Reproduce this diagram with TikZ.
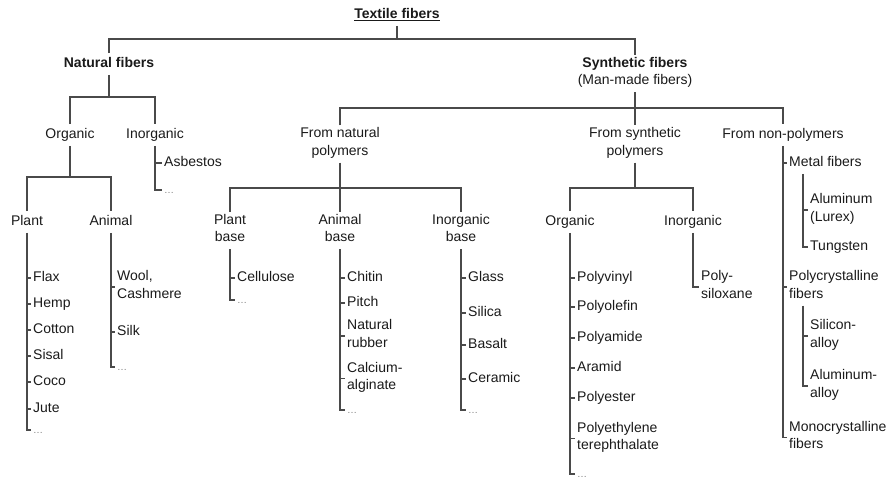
\documentclass[tikz,border=0pt]{standalone}
\usepackage{fontspec}
\setmainfont{Liberation Sans}
\definecolor{lc}{HTML}{4A4A4A}
\definecolor{txt}{HTML}{1A1A1A}
\begin{document}
\begin{tikzpicture}[x=1pt,y=-1pt,
  every node/.style={font=\fontsize{14}{17.5}\selectfont, text=txt, inner xsep=2pt, inner ysep=2pt,
    execute at begin node=\strut, execute at end node=\strut},
  hd/.style={anchor=center, align=center},
  it/.style={anchor=west, align=left},
  dd/.style={anchor=west, text=gray, font=\fontsize{10}{17.5}\selectfont},
  ln/.style={draw=lc, line width=1.1pt},
  thk/.style={draw=lc, line width=2pt}]
\useasboundingbox (0,0) rectangle (893,482);
% headers
\node[hd] (tf) at (397,15) {\textbf{\underline{Textile fibers}}};
\node[hd] (nat) at (109,64) {\textbf{Natural fibers}};
\node[hd] (syn) at (635,73.5) {\textbf{Synthetic fibers}\\(Man-made fibers)};
\node[hd] (org) at (70,135) {Organic};
\node[hd] (ino) at (155,135) {Inorganic};
\node[hd] (fnp) at (340,144) {From natural\\polymers};
\node[hd] (fsp) at (635,144) {From synthetic\\polymers};
\node[hd] (fnonp) at (783,135) {From non-polymers};
\node[hd] (plant) at (27,222) {Plant};
\node[hd] (animal) at (111,222) {Animal};
\node[hd] (plantb) at (230,230.5) {Plant\\base};
\node[hd] (animalb) at (340,230.5) {Animal\\base};
\node[hd] (inorgb) at (461,230.5) {Inorganic\\base};
\node[hd] (sorg) at (570,222) {Organic};
\node[hd] (sino) at (693,222) {Inorganic};
% natural inorganic
\node[it] (asb) at (162,163) {Asbestos};
\node[dd] (inod) at (162,190) {\ldots};
% plant
\node[it] (flax) at (31,278) {Flax};
\node[it] (hemp) at (31,304) {Hemp};
\node[it] (cotton) at (31,330) {Cotton};
\node[it] (sisal) at (31,356) {Sisal};
\node[it] (coco) at (31,382) {Coco};
\node[it] (jute) at (31,409) {Jute};
\node[dd] (plantd) at (31,430) {\ldots};
% animal
\node[it] (wool) at (115,287) {Wool,\\Cashmere};
\node[it] (silk) at (115,332) {Silk};
\node[dd] (animald) at (115,367) {\ldots};
% plant base
\node[it] (cell) at (235,278) {Cellulose};
\node[dd] (plantbd) at (235,300) {\ldots};
% animal base
\node[it] (chitin) at (345,278) {Chitin};
\node[it] (pitch) at (345,303) {Pitch};
\node[it] (rubber) at (345,336) {Natural\\rubber};
\node[it] (calc) at (345,378.5) {Calcium-\\alginate};
\node[dd] (animalbd) at (345,410) {\ldots};
% inorganic base
\node[it] (glass) at (466,278) {Glass};
\node[it] (silica) at (466,313) {Silica};
\node[it] (basalt) at (466,345) {Basalt};
\node[it] (ceramic) at (466,379) {Ceramic};
\node[dd] (inorgbd) at (466,410) {\ldots};
% synthetic organic
\node[it] (pvinyl) at (575,278) {Polyvinyl};
\node[it] (polefin) at (575,307) {Polyolefin};
\node[it] (pamide) at (575,338) {Polyamide};
\node[it] (aramid) at (575,368) {Aramid};
\node[it] (pester) at (575,398) {Polyester};
\node[it] (pet) at (575,438.5) {Polyethylene\\terephthalate};
\node[dd] (sorgd) at (575,474) {\ldots};
% synthetic inorganic
\node[it] (psil) at (699,287) {Poly-\\siloxane};
% non-polymers
\node[it] (metal) at (787,163) {Metal fibers};
\node[it] (alu) at (808,210) {Aluminum\\(Lurex)};
\node[it] (tung) at (808,247) {Tungsten};
\node[it] (poly) at (787,287) {Polycrystalline\\fibers};
\node[it] (sialloy) at (808,336) {Silicon-\\alloy};
\node[it] (alalloy) at (808,386) {Aluminum-\\alloy};
\node[it] (mono) at (787,437.5) {Monocrystalline\\fibers};
% tree connectors
\draw[ln] (tf.south) -- (tf.south |- 0,39);
\draw[ln] (nat.north) -- (nat.north |- 0,39) -- (syn.north |- 0,39) -- (syn.north);
\draw[ln] (nat.south) -- (nat.south |- 0,97);
\draw[ln] (org.north) -- (org.north |- 0,97) -- (ino.north |- 0,97) -- (ino.north);
\draw[ln] (syn.south) -- (fsp.north);
\draw[ln] (fnp.north) -- (fnp.north |- 0,108) -- (fnonp.north |- 0,108) -- (fnonp.north);
\draw[ln] (org.south) -- (org.south |- 0,177);
\draw[ln] (plant.north) -- (plant.north |- 0,177) -- (animal.north |- 0,177) -- (animal.north);
\draw[ln] (fnp.south) -- (animalb.north);
\draw[ln] (plantb.north) -- (plantb.north |- 0,188) -- (inorgb.north |- 0,188) -- (inorgb.north);
\draw[ln] (fsp.south) -- (fsp.south |- 0,188);
\draw[ln] (sorg.north) -- (sorg.north |- 0,188) -- (sino.north |- 0,188) -- (sino.north);
% list spines
\draw[ln] (ino.south) |- (inod.west);
\draw[ln] (plant.south) |- (plantd.west);
\draw[thk] (plant.south) -- (plant.south |- coco.west);
\draw[ln] (animal.south) |- (animald.west);
\draw[ln] (plantb.south) |- (plantbd.west);
\draw[ln] (animalb.south) |- (animalbd.west);
\draw[ln] (inorgb.south) |- (inorgbd.west);
\draw[ln] (sorg.south) |- (sorgd.west);
\draw[ln] (sino.south) |- (psil.west);
\draw[ln] (fnonp.south) |- (mono.west);
\coordinate (ms) at ([xshift=16pt]metal.south west);
\draw[ln] (ms) |- (tung.west);
\coordinate (ps) at ([xshift=16pt]poly.south west);
\draw[ln] (ps) |- (alalloy.west);
% ticks
\foreach \p/\c in {ino/asb, plant/flax, plant/hemp, plant/cotton, plant/sisal, plant/coco, plant/jute,
  animal/wool, animal/silk, plantb/cell, animalb/chitin, animalb/pitch, animalb/rubber, animalb/calc,
  inorgb/glass, inorgb/silica, inorgb/basalt, inorgb/ceramic,
  sorg/pvinyl, sorg/polefin, sorg/pamide, sorg/aramid, sorg/pester, sorg/pet,
  fnonp/metal, fnonp/poly, ms/alu, ps/sialloy}
  \draw[ln] (\p.south |- \c.west) -- (\c.west);
\end{tikzpicture}
\end{document}
